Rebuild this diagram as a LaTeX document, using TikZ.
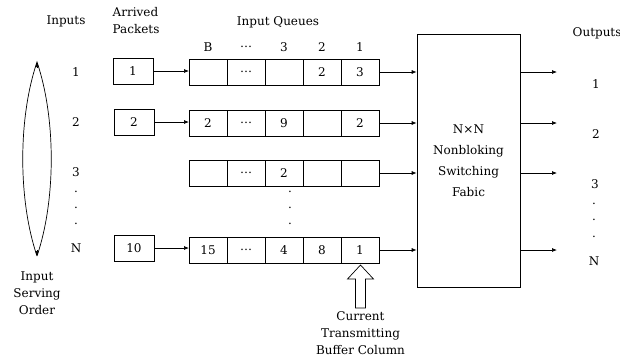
\documentclass[tikz,border=0pt]{standalone}
\usepackage{fontspec}
\setmainfont{DejaVu Serif}
\usetikzlibrary{positioning,arrows.meta,calc}

\begin{document}
\begin{tikzpicture}[x=1pt,y=-1pt,line width=0.7pt,lb/.style={font=\fontsize{12}{17}\selectfont},
  cell/.style={draw,lb,minimum width=38pt,minimum height=26pt,inner sep=0pt,outer sep=0pt},
  pkt/.style={draw,lb,minimum width=40pt,minimum height=26pt,inner sep=0pt},
  arr/.style={-{Latex[length=5pt,width=4pt]}}]
\useasboundingbox (0,0) rectangle (620,360);
\node[lb] (tin) at (66,21) {Inputs};
\node[lb,align=left,anchor=west] (tarr) at (109,21) {Arrived\\Packets};
\node[lb] (tq) at (278,22) {Input Queues};
\node[lb,anchor=west] (tout) at (569,33) {Outputs};
\node[lb] (hB) at (208,47) {B}; \node[lb] (hd) at (246,47) {\dots};
\node[lb] (h3) at (284,47) {3}; \node[lb] (h2) at (322,47) {2}; \node[lb] (h1) at (360,47) {1};
\node[draw,lb,align=center,minimum width=103pt,minimum height=253pt,font=\fontsize{12}{21}\selectfont] (fab) at (468.5,160.5) {N×N\\Nonbloking\\Switching\\Fabic};
\foreach \r/\y/\a/\c/\d/\e in {1/72/{}/{}/2/3,2/123/2/9/{}/2,3/173/{}/2/{}/{},N/250/15/4/8/1}{
  \node[cell] (q\r-B) at (208,\y) {\a};
  \node[cell,right=0pt of q\r-B] (q\r-d) {\dots};
  \node[cell,right=0pt of q\r-d] (q\r-3) {\c};
  \node[cell,right=0pt of q\r-3] (q\r-2) {\d};
  \node[cell,right=0pt of q\r-2] (q\r-1) {\e};
  \coordinate (o\r) at (557,\y);
  \draw[arr] (q\r-1.east) -- (q\r-1.east -| fab.west);
  \draw[arr] (fab.east |- q\r-1) -- (o\r);
}
\node[pkt] (p1) at (133,71) {1};
\node[pkt] (p2) at (134,122) {2};
\node[pkt] (pN) at (134,248) {10};
\draw[arr] (p1) -- (p1 -| q1-B.west);
\draw[arr] (p2) -- (p2 -| q2-B.west);
\draw[arr] (pN) -- (pN -| qN-B.west);
\node[lb] (i1) at (76,72) {1}; \node[lb] (i2) at (76,122) {2}; \node[lb] (i3) at (76,172) {3};
\node[lb] (id1) at (76,192) {.}; \node[lb] (id2) at (76,208) {.}; \node[lb] (id3) at (76,224) {.};
\node[lb] (iN) at (76,248) {N};
\node[lb] (qd1) at (290,192) {.}; \node[lb] (qd2) at (290,208) {.}; \node[lb] (qd3) at (290,224) {.};
\node[lb] (out1) at (596,84) {1}; \node[lb] (out2) at (596,134) {2}; \node[lb] (out3) at (595,184) {3};
\node[lb] (od1) at (594,204) {.}; \node[lb] (od2) at (594,220) {.}; \node[lb] (od3) at (594,237) {.};
\node[lb] (outN) at (594,261) {N};
\coordinate (otop) at (37,62); \coordinate (obot) at (37,256);
\draw (obot) .. controls (18,200) and (18,118) .. (otop) .. controls (56,118) and (56,200) .. (obot);
\draw[arr] ($(otop)+(0,6)$) -- (otop);
\draw[arr] ($(obot)+(0,-6)$) -- (obot);
\node[lb,align=center,anchor=north] (tord) at (37,268) {Input\\Serving\\Order};
\draw (360.5,265) -- (373.5,279) -- (365.5,279) -- (365.5,308) -- (355.5,308) -- (355.5,279) -- (347.5,279) -- cycle;
\node[lb,align=center,anchor=north] (tcur) at (360.5,308) {Current\\Transmitting\\Buffer Column};
\end{tikzpicture}
\end{document}
